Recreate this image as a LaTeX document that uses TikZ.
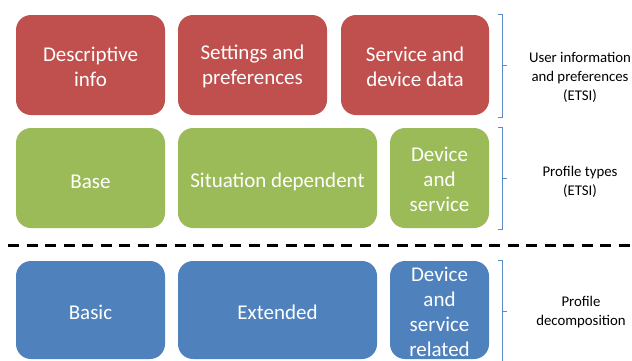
\documentclass[tikz,border=0pt]{standalone}
\usepackage{fontspec}
\setmainfont{Carlito}
\definecolor{redbox}{HTML}{C0504D}
\definecolor{greenbox}{HTML}{9BBB59}
\definecolor{bluebox}{HTML}{4F81BD}
\definecolor{brk}{HTML}{5B8CC8}
\begin{document}
\begin{tikzpicture}[x=1pt,y=-1pt,
  rbox/.style={rounded corners=15pt, draw=none, inner sep=0pt},
  btxt/.style={text=white, align=center, inner sep=0pt, font=\fontsize{21}{25}\selectfont},
  lab/.style={align=center, text=black, font=\fontsize{14.8}{19}\selectfont},
  brace/.style={draw=brk, line width=0.8pt}]
\clip (0,0) rectangle (632,360);
\fill[white] (0,0) rectangle (632,360);
% red row
\node[rbox, fill=redbox, minimum width=149pt, minimum height=100pt,
  label={[btxt, yshift=-1.5pt]center:Descriptive\\info}] (r1) at (90.5,65) {};
\node[rbox, fill=redbox, minimum width=149pt, minimum height=100pt,
  label={[btxt, yshift=-1.5pt]center:Settings and\\preferences}] (r2) at (252.5,65) {};
\node[rbox, fill=redbox, minimum width=148pt, minimum height=100pt,
  label={[btxt, yshift=-1.5pt]center:Service and\\device data}] (r3) at (415,65) {};
% green row
\node[rbox, fill=greenbox, minimum width=149pt, minimum height=100pt,
  label={[btxt, yshift=-3.5pt]center:Base}] (g1) at (90.5,178) {};
\node[rbox, fill=greenbox, minimum width=199pt, minimum height=100pt,
  label={[btxt, yshift=-3.5pt]center:Situation dependent}] (g2) at (277.5,178) {};
\node[rbox, fill=greenbox, minimum width=99pt, minimum height=100pt,
  label={[btxt, yshift=-1pt]center:Device\\and\\service}] (g3) at (439.5,178) {};
% blue row
\node[rbox, fill=bluebox, minimum width=149pt, minimum height=98pt,
  label={[btxt, yshift=-2pt]center:Basic}] (b1) at (90.5,310) {};
\node[rbox, fill=bluebox, minimum width=199pt, minimum height=98pt,
  label={[btxt, yshift=-2pt]center:Extended}] (b2) at (277.5,310) {};
\node[rbox, fill=bluebox, minimum width=99pt, minimum height=98pt,
  label={[btxt, yshift=-1.5pt]center:Device\\and\\service\\related}] (b3) at (439.5,310) {};
% dashed separator
\coordinate (dl) at (8,245);
\coordinate (dr) at (632,245);
\draw[line width=3pt, dash pattern=on 11pt off 7.5pt] (dl) -- (dr);
% brackets
\draw[brace] (498,14) -- (502,14) -- (502,117) -- (498,117);
\draw[brace] (502,65.5) -- (507,65.5);
\draw[brace] (498,127) -- (502,127) -- (502,229) -- (498,229);
\draw[brace] (502,178) -- (507,178);
\draw[brace] (498,260) -- (502,260) -- (502,365);
\draw[brace] (502,311.5) -- (507,311.5);
% labels
\node[lab] (l1) at (580,77) {User information\\and preferences\\(ETSI)};
\node[lab] (l2) at (580,181.5) {Profile types\\(ETSI)};
\node[lab] (l3) at (581,312) {Profile\\decomposition};
\end{tikzpicture}
\end{document}
